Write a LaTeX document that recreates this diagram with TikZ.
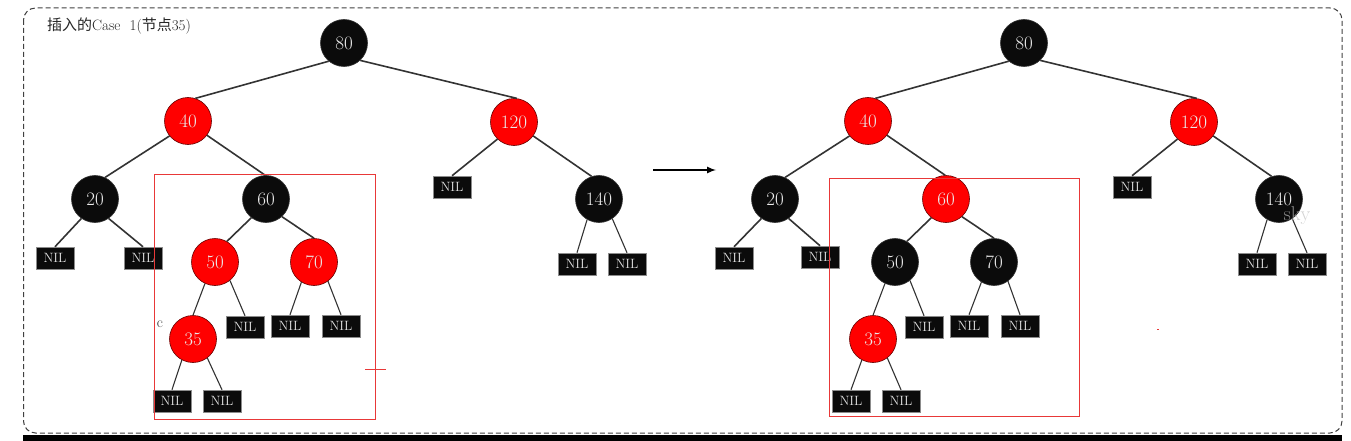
\documentclass[tikz,border=0pt]{standalone}
\usepackage{fontspec}
\newfontfamily\cjk{Noto Sans CJK SC}
\usetikzlibrary{arrows}
\definecolor{nodeblack}{HTML}{0B0B0B}
\definecolor{nodered}{HTML}{FF0000}
\definecolor{linkgray}{HTML}{333333}
\definecolor{framered}{HTML}{E83838}
\tikzset{blacknode/.style={circle, fill=nodeblack, draw=linkgray, line width=0.6pt, minimum size=47pt, inner sep=0pt, text=white!92!black, font=\fontsize{19}{19}\selectfont},
         rednode/.style={blacknode, fill=nodered, draw=red!40!black},
         nilnode/.style={rectangle, fill=nodeblack, draw=black!45, line width=0.5pt, minimum width=38pt, minimum height=22pt, inner sep=0pt, text=white!88!black, font=\fontsize{13.5}{13.5}\selectfont}}
\tikzset{link/.style={linkgray, line width=1.6pt}, thinlink/.style={linkgray, line width=1.1pt}, redframe/.style={framered, line width=1pt}}

\begin{document}
\begin{tikzpicture}[x=1pt,y=-1pt]
  \useasboundingbox (0,0) rectangle (1351,441);
  \draw[black!75, line width=1pt, dash pattern=on 5pt off 3pt, rounded corners=12pt] (23.5,8) rectangle (1342,433);
  \fill[black] (23,435) rectangle (1342,441);
  \node[anchor=west, inner sep=0pt, text=black!85] (title) at (47,26) {\fontsize{15}{15}\selectfont{\cjk 插入的}Case\ \ 1({\cjk 节点}35)};
  % before the fix
  \begin{scope}
   \node[blacknode] (a80)  at (344, 43) {80};
   \node[rednode]   (a40)  at (188,121) {40};
   \node[rednode]   (a120) at (514,122) {120};
   \node[blacknode] (a20)  at ( 95,199) {20};
   \node[blacknode] (a60)  at (266,199) {60};
   \node[blacknode] (a140) at (599,199) {140};
   \node[rednode]   (a50)  at (215,262) {50};
   \node[rednode]   (a70)  at (314,262) {70};
   \node[rednode]   (a35)  at (193,339) {35};
   \node[nilnode] (a120n) at (452,187) {NIL};
   \node[nilnode] (a20l)  at ( 55,258) {NIL};
   \node[nilnode] (a20r)  at (143,258) {NIL};
   \node[nilnode] (a50r)  at (245,327) {NIL};
   \node[nilnode] (a70l)  at (290,326) {NIL};
   \node[nilnode] (a70r)  at (341,326) {NIL};
   \node[nilnode] (a35l)  at (172,401) {NIL};
   \node[nilnode] (a35r)  at (222,401) {NIL};
   \node[nilnode] (a140l) at (577,264) {NIL};
   \node[nilnode] (a140r) at (627,264) {NIL};
   \draw[link] (a80.230) -- (a40.72);
   \draw[link] (a80.313) -- (a120.83);
   \draw[link] (a40.219) -- (a20.65);
   \draw[link] (a40.323) -- (a60.92);
   \draw[link] (a120.226) -- (a120n.north);
   \draw[link] (a120.324) -- (a140.108);
   \draw[link] (a20.235) -- (a20l.north);
   \draw[link] (a20.305) -- (a20r.north);
   \draw[link] (a60.232) -- (a50.60);
   \draw[link] (a60.312) -- (a70.90);
   \draw[thinlink] (a50.245) -- (a35.north);
   \draw[thinlink] (a50.309) -- (a50r.north);
   \draw[thinlink] (a70.238) -- (a70l.north);
   \draw[thinlink] (a70.306) -- (a70r.north);
   \draw[thinlink] (a35.242) -- (a35l.north);
   \draw[thinlink] (a35.307) -- (a35r.north);
   \draw[thinlink] (a140.240) -- (a140l.north);
   \draw[thinlink] (a140.304) -- (a140r.north);
   \node[inner sep=0pt, text=black!80, font=\fontsize{15}{15}\selectfont] (mark) at (160,324) {c};
   \draw[redframe] (154,174) rectangle (375,419);
   \draw[redframe] (365,369) -- (386,369);
  \end{scope}
  % the arrow
  \coordinate (from) at (653,170);
  \coordinate (to)   at (716,170);
  \draw[black, line width=2pt, -latex] (from) -- (to);
  % after the fix
  \begin{scope}[xshift=680pt]
   \node[blacknode] (b80)  at (344, 43) {80};
   \node[rednode]   (b40)  at (188,121) {40};
   \node[rednode]   (b120) at (514,122) {120};
   \node[blacknode] (b20)  at ( 95,199) {20};
   \node[rednode]   (b60)  at (266,199) {60};
   \node[blacknode] (b140) at (599,199) {140};
   \node[blacknode] (b50)  at (215,262) {50};
   \node[blacknode] (b70)  at (314,262) {70};
   \node[rednode]   (b35)  at (193,339) {35};
   \node[nilnode] (b120n) at (452,187) {NIL};
   \node[nilnode] (b20l)  at ( 54,258) {NIL};
   \node[nilnode] (b20r)  at (140,257) {NIL};
   \node[nilnode] (b50r)  at (244,327) {NIL};
   \node[nilnode] (b70l)  at (289,326) {NIL};
   \node[nilnode] (b70r)  at (340,326) {NIL};
   \node[nilnode] (b35l)  at (171,401) {NIL};
   \node[nilnode] (b35r)  at (221,401) {NIL};
   \node[nilnode] (b140l) at (577,264) {NIL};
   \node[nilnode] (b140r) at (627,264) {NIL};
   \draw[link] (b80.230) -- (b40.72);
   \draw[link] (b80.313) -- (b120.83);
   \draw[link] (b40.219) -- (b20.65);
   \draw[link] (b40.323) -- (b60.92);
   \draw[link] (b120.226) -- (b120n.north);
   \draw[link] (b120.324) -- (b140.108);
   \draw[link] (b20.235) -- (b20l.north);
   \draw[link] (b20.305) -- (b20r.north);
   \draw[link] (b60.232) -- (b50.60);
   \draw[link] (b60.312) -- (b70.90);
   \draw[thinlink] (b50.245) -- (b35.north);
   \draw[thinlink] (b50.309) -- (b50r.north);
   \draw[thinlink] (b70.238) -- (b70l.north);
   \draw[thinlink] (b70.306) -- (b70r.north);
   \draw[thinlink] (b35.242) -- (b35l.north);
   \draw[thinlink] (b35.307) -- (b35r.north);
   \draw[thinlink] (b140.240) -- (b140l.north);
   \draw[thinlink] (b140.304) -- (b140r.north);
   \draw[redframe] (149,178) rectangle (399,416);
   \draw[framered, line width=0.8pt] (477,329) -- (479,329);
   \node[inner sep=0pt, text=black!25, opacity=0.7, font=\fontsize{20}{20}\selectfont] (sky) at (617,216) {sky};
  \end{scope}
\end{tikzpicture}
\end{document}
